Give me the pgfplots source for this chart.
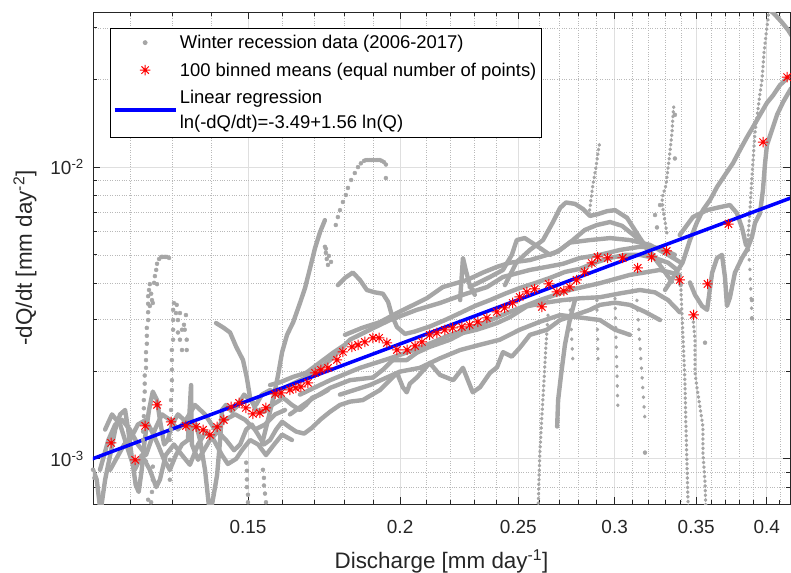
\documentclass[border=0pt]{standalone}
\usepackage{fontspec}
\setmainfont{Liberation Sans}
\usepackage{pgfplots}
\pgfplotsset{compat=1.18}

\definecolor{gdat}{RGB}{166,166,166}
\definecolor{axcol}{RGB}{38,38,38}
\definecolor{gridmaj}{RGB}{223,223,223}
\definecolor{gridmin}{RGB}{185,185,185}

% MATLAB-like '*' marker: plus and cross on top of each other
\pgfdeclareplotmark{mstar}{%
  \pgfpathmoveto{\pgfpoint{-\pgfplotmarksize}{0pt}}%
  \pgfpathlineto{\pgfpoint{\pgfplotmarksize}{0pt}}%
  \pgfpathmoveto{\pgfpoint{0pt}{-\pgfplotmarksize}}%
  \pgfpathlineto{\pgfpoint{0pt}{\pgfplotmarksize}}%
  \pgfpathmoveto{\pgfpoint{-0.7071\pgfplotmarksize}{-0.7071\pgfplotmarksize}}%
  \pgfpathlineto{\pgfpoint{0.7071\pgfplotmarksize}{0.7071\pgfplotmarksize}}%
  \pgfpathmoveto{\pgfpoint{-0.7071\pgfplotmarksize}{0.7071\pgfplotmarksize}}%
  \pgfpathlineto{\pgfpoint{0.7071\pgfplotmarksize}{-0.7071\pgfplotmarksize}}%
  \pgfusepathqstroke}

\pgfplotsset{
  legimg/.style={legend image code/.code={\draw[mark repeat=2,mark phase=2,##1] plot coordinates {(0bp,0bp) (30.5bp,0bp) (61bp,0bp)};}},
  gline/.style={draw=gdat, line width=4.4bp, line join=round, line cap=round, no markers, forget plot},
  gdots/.style={draw=gdat, line width=3.3bp, line cap=round, dash pattern=on 0.7bp off 4bp, no markers, forget plot},
  gsparse/.style={draw=gdat, line width=3.3bp, line cap=round, dash pattern=on 0.7bp off 9bp, no markers, forget plot},
}

\begin{document}
\begin{tikzpicture}
\begin{axis}[
  at={(0,0)}, anchor=south west,
  scale only axis, width=697bp, height=492bp,
  xmode=log, ymode=log,
  xmin=0.1119, xmax=0.4179, ymin=0.0007, ymax=0.034,
  xtick={0.15,0.2,0.25,0.3,0.35,0.4},
  xticklabels={0.15,0.2,0.25,0.3,0.35,0.4},
  minor xtick={0.12,0.13,0.14,0.16,0.17,0.18,0.19,0.21,0.22,0.23,0.24,0.26,0.27,0.28,0.29,0.31,0.32,0.33,0.34,0.36,0.37,0.38,0.39,0.41},
  ytick={0.001,0.01},
  yticklabels={10\textsuperscript{-3},10\textsuperscript{-2}},
  minor ytick={0.0008,0.0009,0.002,0.003,0.004,0.005,0.006,0.007,0.008,0.009,0.02,0.03},
  grid=both,
  major grid style={draw=gridmaj, line width=0.7bp},
  minor grid style={draw=gridmin, dotted, line width=0.6bp},
  axis line style={draw=axcol, line width=0.8bp},
  tick style={draw=axcol, line width=0.8bp},
  major tick length=7bp, minor tick length=4bp,
  tick label style={font=\fontsize{19}{22}\selectfont, text=axcol},
  xticklabel style={inner sep=0pt, anchor=north, yshift=-16bp},
  yticklabel style={inner sep=0pt, anchor=east, xshift=-9bp},
  xlabel={Discharge [mm day\textsuperscript{-1}]},
  ylabel={-dQ/dt [mm day\textsuperscript{-2}]},
  label style={font=\fontsize{22.5}{26}\selectfont, text=axcol},
  xlabel style={at={(axis description cs:0.5,0)}, anchor=base, inner sep=0pt, yshift=-64bp},
  ylabel style={at={(axis description cs:0,0.5)}, anchor=base, inner sep=0pt, yshift=61bp},
  legend cell align=left,
  legend style={at={(axis description cs:0.02439,0.96748)}, anchor=north west,
    draw=black, line width=0.8bp, fill=white,
    inner xsep=2.5bp, inner ysep=0.5bp, row sep=0bp,
    font=\fontsize{18.5}{25.5}\selectfont, text=black,
    cells={align=left},
    nodes={inner xsep=2.5bp, inner ysep=6.3bp}},
]

% ---- scattered recession points (dots) ----
\addplot[only marks, mark=*, mark size=2bp, color=gdat, legimg] coordinates {
 (0.1230,0.00116) (0.1230,0.00124) (0.1230,0.00132) (0.1232,0.00140) (0.1232,0.00149)
 (0.1232,0.00159) (0.1234,0.00170) (0.1234,0.00181) (0.1234,0.00193) (0.1237,0.00205)
 (0.1237,0.00218) (0.1237,0.00232) (0.1239,0.00248) (0.1239,0.00264) (0.1239,0.00281)
 (0.1242,0.00299) (0.1242,0.00318) (0.1242,0.00340) (0.1242,0.00361) (0.1244,0.00379)
 (0.1249,0.00368) (0.1251,0.00350) (0.1246,0.00334) (0.1253,0.00342) (0.1256,0.00401)
 (0.1258,0.00423) (0.1261,0.00444) (0.1263,0.00466) (0.1268,0.00484) (0.1273,0.00492)
 (0.1276,0.00492) (0.1280,0.00492) (0.1284,0.00492) (0.1287,0.00492) (0.1292,0.00488)
 (0.1263,0.00397) (0.1246,0.00397)
 (0.1294,0.000848) (0.1294,0.000917) (0.1294,0.000992) (0.1294,0.00107) (0.1294,0.00116)
 (0.1297,0.00126) (0.1297,0.00136) (0.1297,0.00147) (0.1297,0.00159) (0.1299,0.00172)
 (0.1299,0.00186) (0.1299,0.00202) (0.1299,0.00218) (0.1299,0.00236) (0.1302,0.00256)
 (0.1302,0.00277) (0.1302,0.00299) (0.1302,0.00324) (0.1304,0.00342) (0.1311,0.00337)
 (0.1309,0.00316) (0.1319,0.00316) (0.1314,0.00299) (0.1324,0.00277) (0.1331,0.00277)
 (0.1319,0.00256) (0.1336,0.00256) (0.1324,0.00236) (0.1336,0.00236) (0.1329,0.00288)
 (0.1334,0.00311) (0.1314,0.00271)
 (0.1495,0.00097) (0.1497,0.00091) (0.1497,0.00085) (0.1497,0.00080) (0.1500,0.000753)
 (0.1500,0.00071) (0.1543,0.000917) (0.1546,0.00086) (0.1546,0.00081) (0.1549,0.00076)
 (0.1552,0.00071) (0.1119,0.000917) (0.1122,0.00086) (0.1242,0.000724) (0.1249,0.00071)
 (0.1251,0.00077) (0.1253,0.000848) (0.1253,0.00094) (0.1234,0.00106) (0.1237,0.00098)
 (0.1735,0.00533) (0.1738,0.00508) (0.1741,0.00484) (0.1745,0.00462) (0.1755,0.00473)
 (0.1748,0.00496) (0.1738,0.00525)
 (0.1771,0.00633) (0.1778,0.00674) (0.1785,0.00712) (0.1795,0.00759) (0.1805,0.00802)
 (0.1812,0.00848) (0.1823,0.00903) (0.1836,0.00954) (0.1847,0.0100) (0.1857,0.0103)
 (0.1868,0.0105) (0.1875,0.01057) (0.1882,0.01057) (0.1889,0.01057) (0.1896,0.01057)
 (0.1903,0.01057) (0.1911,0.01057) (0.1918,0.01057) (0.1925,0.01057) (0.1932,0.01050)
 (0.1940,0.0104) (0.1947,0.0102) (0.1947,0.00917)
 (0.3362,0.0151) (0.3362,0.0107) (0.3269,0.00741) (0.3238,0.00685) (0.3250,0.00621)
 (0.3177,0.00105) (0.3559,0.00250) (0.3890,0.00350) (0.3890,0.00303)
};
\addlegendentry{Winter recession data (2006-2017)}

% ---- dense recession curves (drawn as thick lines) ----
\addplot[gline] coordinates {(0.1119,0.000917) (0.1127,0.000848) (0.1136,0.00064)};
\addplot[gline] coordinates {
 (0.1134,0.00064) (0.1145,0.000848) (0.1156,0.00103) (0.1167,0.00126) (0.1178,0.00142)
 (0.1189,0.00147) (0.1196,0.00126) (0.1205,0.000992) (0.1213,0.000815) (0.1220,0.00077)
 (0.1227,0.000917) (0.1234,0.00116) (0.1244,0.00147) (0.1253,0.00170) (0.1263,0.00159)
 (0.1270,0.00136) (0.1280,0.00112) (0.1289,0.00116) (0.1299,0.00131) (0.1314,0.00142)
 (0.1329,0.00136) (0.1344,0.00126) (0.1360,0.00131) (0.1370,0.00116) (0.1383,0.000917)
 (0.1396,0.00064) (0.1406,0.000753) (0.1415,0.000882) (0.1423,0.00116) (0.1428,0.00147)
 (0.1439,0.00153) (0.1455,0.00145) (0.1472,0.00153) (0.1489,0.00166) (0.1506,0.00159)
 (0.1523,0.00153) (0.1540,0.00166) (0.1564,0.00172) (0.1588,0.00166) (0.1612,0.00159)
 (0.1630,0.00153) (0.1655,0.00147) (0.1674,0.00153) (0.1694,0.00162) (0.1719,0.00166)
 (0.1745,0.00172)};
\addplot[gline] coordinates {
 (0.1156,0.000917) (0.1174,0.00103) (0.1187,0.00112) (0.1200,0.00116) (0.1218,0.00131)
 (0.1237,0.00136) (0.1251,0.00124) (0.1265,0.00112) (0.1280,0.000992) (0.1294,0.000917)
 (0.1309,0.00103) (0.1324,0.00112) (0.1339,0.00116) (0.1347,0.00179) (0.1349,0.00112)
 (0.1365,0.000992) (0.1380,0.00107) (0.1396,0.00116) (0.1417,0.00124) (0.1439,0.00116)
 (0.1461,0.00107) (0.1478,0.00112) (0.1495,0.00126) (0.1511,0.00131) (0.1529,0.00121)
 (0.1546,0.00112) (0.1564,0.00116) (0.1582,0.00126) (0.1600,0.00134) (0.1624,0.00128)
 (0.1643,0.00124) (0.1668,0.00122) (0.1694,0.00128) (0.1719,0.00136) (0.1752,0.00145)
 (0.1785,0.00153) (0.1819,0.00157) (0.1864,0.00159) (0.1925,0.00172) (0.1988,0.00197)
 (0.2010,0.00176) (0.2025,0.00169) (0.2037,0.00181) (0.2064,0.00190) (0.2115,0.00213)
 (0.2156,0.00194) (0.2211,0.00186) (0.2252,0.00205) (0.2294,0.00169) (0.2326,0.00176)
 (0.2370,0.00197) (0.2402,0.00206) (0.2429,0.00232) (0.2470,0.00224) (0.2507,0.00240)
 (0.2556,0.00266) (0.2640,0.00277) (0.2706,0.00299) (0.2783,0.00311) (0.2863,0.00324)
 (0.2918,0.00337) (0.3002,0.00343) (0.3088,0.00337) (0.3177,0.00319) (0.3269,0.00299)};
\addplot[gline] coordinates {
 (0.1134,0.000917) (0.1152,0.00116) (0.1167,0.00131) (0.1182,0.00136) (0.1200,0.00126)
 (0.1218,0.00112) (0.1237,0.00103) (0.1258,0.00126) (0.1275,0.00142) (0.1294,0.00136)
 (0.1314,0.00126) (0.1334,0.00136) (0.1357,0.00153) (0.1383,0.00142) (0.1409,0.00126)
 (0.1436,0.00136) (0.1464,0.00142) (0.1492,0.00136) (0.1520,0.00126) (0.1549,0.00131)
 (0.1579,0.00142) (0.1609,0.00147)};
\addplot[gline] coordinates {
 (0.1145,0.00126) (0.1160,0.00142) (0.1178,0.00131) (0.1196,0.00107) (0.1211,0.000917)
 (0.1227,0.00103) (0.1246,0.000917) (0.1261,0.000800) (0.1270,0.000848) (0.1284,0.00103)
 (0.1304,0.00112) (0.1324,0.00103) (0.1344,0.000954) (0.1365,0.00112) (0.1385,0.00124)
 (0.1406,0.00116) (0.1428,0.00103) (0.1444,0.000960) (0.1467,0.00100) (0.1483,0.00107)
 (0.1506,0.00116) (0.1529,0.00112) (0.1552,0.00103) (0.1576,0.00112) (0.1600,0.00121)
 (0.1630,0.00116)};
\addplot[gline] coordinates {
 (0.1412,0.00292) (0.1433,0.00281) (0.1450,0.00271) (0.1467,0.00242) (0.1486,0.00218)
 (0.1497,0.00189) (0.1506,0.00162) (0.1523,0.00147) (0.1546,0.00145) (0.1570,0.00153)
 (0.1594,0.00159)};
\addplot[gline] coordinates {
 (0.1540,0.00112) (0.1558,0.00136) (0.1576,0.00166) (0.1588,0.00194) (0.1600,0.00232)
 (0.1615,0.00266) (0.1634,0.00294) (0.1655,0.00342) (0.1671,0.00385) (0.1687,0.00451)
 (0.1703,0.00529) (0.1719,0.00599) (0.1735,0.00658)};
\addplot[gline] coordinates {
 (0.1564,0.00179) (0.1594,0.00183) (0.1634,0.00191) (0.1674,0.00197) (0.1719,0.00214)
 (0.1762,0.00231) (0.1802,0.00246)};
\addplot[gline] coordinates {
 (0.1778,0.00394) (0.1802,0.00417) (0.1829,0.00435) (0.1854,0.00410) (0.1878,0.00379)
 (0.1907,0.00372) (0.1936,0.00368) (0.1955,0.00345) (0.1969,0.00311) (0.1988,0.00283)
 (0.2018,0.00268) (0.2056,0.00273) (0.2115,0.00284) (0.2177,0.00299) (0.2240,0.00316)
 (0.2303,0.00334) (0.2370,0.00350) (0.2438,0.00368) (0.2507,0.00385) (0.2580,0.00400)
 (0.2655,0.00417) (0.2731,0.00437) (0.2810,0.00448) (0.2890,0.00470) (0.2974,0.00488)
 (0.3059,0.00500) (0.3147,0.00500) (0.3238,0.00488) (0.3319,0.00470) (0.3368,0.00448)
 (0.3399,0.00394)};
\addplot[gline] coordinates {
 (0.1802,0.00266) (0.1861,0.00281) (0.1925,0.00294) (0.1988,0.00316) (0.2103,0.00355)
 (0.2168,0.00388) (0.2269,0.00410) (0.2339,0.00435) (0.2402,0.00455) (0.2461,0.00470)
 (0.2556,0.00480) (0.2691,0.00512) (0.2756,0.00551) (0.2863,0.00562) (0.2974,0.00571)
 (0.3088,0.00562) (0.3207,0.00541) (0.3319,0.00500) (0.3393,0.00473)};
\addplot[gline] coordinates {
 (0.1594,0.00172) (0.1655,0.00186) (0.1703,0.00198) (0.1752,0.00218) (0.1819,0.00256)
 (0.1889,0.00277) (0.1962,0.00299) (0.2064,0.00324) (0.2156,0.00342) (0.2252,0.00365)
 (0.2357,0.00388) (0.2429,0.00420) (0.2556,0.00444) (0.2640,0.00455) (0.2721,0.00466)
 (0.2810,0.00488) (0.2918,0.00500) (0.3031,0.00520) (0.3147,0.00533) (0.3269,0.00528)
 (0.3362,0.00500)};
\addplot[gline] coordinates {
 (0.1655,0.00166) (0.1752,0.00186) (0.1854,0.00205) (0.1962,0.00221) (0.2076,0.00240)
 (0.2198,0.00266) (0.2326,0.00288) (0.2461,0.00319) (0.2605,0.00350) (0.2756,0.00379)
 (0.2918,0.00400) (0.3088,0.00427) (0.3269,0.00444) (0.3393,0.00427)};
\addplot[gline] coordinates {
 (0.1785,0.00166) (0.1889,0.00179) (0.1999,0.00199) (0.2076,0.00205) (0.2156,0.00221)
 (0.2240,0.00236) (0.2326,0.00246) (0.2415,0.00256) (0.2507,0.00277) (0.2605,0.00295)
 (0.2706,0.00311) (0.2810,0.00305) (0.2918,0.00299) (0.3002,0.00277) (0.3088,0.00266)};
\addplot[gline] coordinates {
 (0.1624,0.00142) (0.1687,0.00159) (0.1752,0.00175) (0.1819,0.00186) (0.1900,0.00190)
 (0.1936,0.00202) (0.1973,0.00218) (0.2025,0.00218) (0.2064,0.00231) (0.2115,0.00242)
 (0.2198,0.00256) (0.2252,0.00270) (0.2312,0.00277) (0.2402,0.00292) (0.2461,0.00306)
 (0.2541,0.00333) (0.2620,0.00342) (0.2721,0.00350) (0.2810,0.00355) (0.2918,0.00358)
 (0.3031,0.00369) (0.3147,0.00379) (0.3238,0.00372) (0.3319,0.00350) (0.3393,0.00318)};
\addplot[gline] coordinates {
 (0.2240,0.00350) (0.2252,0.00488) (0.2264,0.00444) (0.2281,0.00394) (0.2303,0.00365)};
\addplot[gline] coordinates {
 (0.2438,0.00394) (0.2493,0.00473) (0.2556,0.00520) (0.2620,0.00562) (0.2670,0.00648)
 (0.2706,0.00724) (0.2736,0.00756) (0.2783,0.00748) (0.2826,0.00718) (0.2863,0.00680)
 (0.2907,0.00690) (0.2957,0.00706) (0.3002,0.00712) (0.3071,0.00670) (0.3147,0.00571)
 (0.3219,0.00500) (0.3281,0.00451) (0.3343,0.00404)};
\addplot[gline] coordinates {
 (0.2281,0.00388) (0.2370,0.00420) (0.2429,0.00444) (0.2470,0.00500) (0.2493,0.00562)
 (0.2531,0.00571) (0.2605,0.00528) (0.2655,0.00500) (0.2706,0.00520) (0.2772,0.00562)
 (0.2836,0.00609) (0.2901,0.00633) (0.2974,0.00648) (0.3042,0.00629) (0.3117,0.00580)
 (0.3195,0.00520) (0.3269,0.00473)};
\addplot[gline] coordinates {
 (0.2783,0.00350) (0.2756,0.00299) (0.2731,0.00246) (0.2711,0.00194) (0.2696,0.00159)
 (0.2691,0.00129)};
\addplot[gline] coordinates {
 (0.3300,0.00379) (0.3362,0.00427) (0.3412,0.00471) (0.3459,0.00562) (0.3505,0.00646)
 (0.3545,0.00712) (0.3593,0.00771) (0.3641,0.00855) (0.3696,0.00939) (0.3752,0.0103)
 (0.3802,0.01144) (0.3853,0.01265) (0.3897,0.01370) (0.3949,0.0151) (0.4001,0.0166)
 (0.4047,0.0176) (0.4101,0.0191) (0.4148,0.0200) (0.4195,0.0207)};
\addplot[gline] coordinates {
 (0.3459,0.00402) (0.3492,0.00365) (0.3539,0.00334) (0.3573,0.00324) (0.3607,0.00434)
 (0.3641,0.00488) (0.3675,0.00500) (0.3696,0.00420) (0.3710,0.00334) (0.3731,0.00357)
 (0.3766,0.00434) (0.3817,0.00488) (0.3853,0.00520) (0.3890,0.00576) (0.3912,0.00643)
 (0.3949,0.00695) (0.3971,0.00834) (0.3986,0.0102) (0.4001,0.0119) (0.4039,0.01339)
 (0.4078,0.0151) (0.4125,0.0167) (0.4187,0.0186)};
\addplot[gline] coordinates {
 (0.3393,0.00585) (0.3479,0.00674) (0.3573,0.00712) (0.3661,0.00729) (0.3731,0.00741)
 (0.3780,0.00695) (0.3817,0.00619) (0.3846,0.00541)};
\addplot[gline] coordinates {
 (0.4009,0.0350) (0.4062,0.0333) (0.4117,0.0313) (0.4164,0.0295) (0.4195,0.0281)};

% ---- sparse / dotted parts of recessions ----
\addplot[gdots] coordinates {
 (0.3399,0.00394) (0.3412,0.00277) (0.3426,0.00186) (0.3432,0.00136) (0.3439,0.000992)
 (0.3446,0.000724) (0.3452,0.00064)};
\addplot[gdots] coordinates {
 (0.3479,0.00306) (0.3492,0.00256) (0.3492,0.00198) (0.3505,0.00176) (0.3525,0.00151)
 (0.3545,0.00129) (0.3545,0.00105) (0.3559,0.00083) (0.3566,0.00064)};
\addplot[gdots] coordinates {
 (0.2645,0.00311) (0.2635,0.00246) (0.2625,0.00186) (0.2615,0.00142) (0.2605,0.00107)
 (0.2600,0.000848) (0.2595,0.00064)};
\addplot[gdots] coordinates {
 (0.2858,0.00685) (0.2879,0.00868) (0.2896,0.0100) (0.2912,0.0117) (0.2918,0.0122)};
\addplot[gdots] coordinates {
 (0.3312,0.00594) (0.3288,0.00712) (0.3281,0.00783) (0.3306,0.00868) (0.3325,0.01057)
 (0.3344,0.0132) (0.3350,0.0151) (0.3356,0.0163)};
\addplot[gdots] coordinates {
 (0.3860,0.00562) (0.3875,0.00712) (0.3890,0.00924) (0.3912,0.01310) (0.3934,0.01568)
 (0.3949,0.0179) (0.3964,0.01986) (0.3979,0.0246) (0.3994,0.0283) (0.4009,0.0322)
 (0.4016,0.0355)};
\addplot[gsparse] coordinates {(0.2901,0.00350) (0.2907,0.00218)};
\addplot[gsparse] coordinates {(0.3002,0.00355) (0.3019,0.00147)};
\addplot[gsparse] coordinates {(0.3129,0.00350) (0.3177,0.00136)};
\addplot[gsparse] coordinates {(0.2756,0.00350) (0.2772,0.00218)};
\addplot[gsparse] coordinates {(0.3860,0.00562) (0.3875,0.00444) (0.3890,0.00303)};

% ---- binned means ----
\addplot[only marks, mark=mstar, mark size=5.2bp, color=red, line width=1bp, legimg] coordinates {
 (0.1158,1.134e-3) (0.1212,9.92e-4) (0.1235,1.297e-3) (0.1263,1.531e-3) (0.1297,1.339e-3)
 (0.1334,1.297e-3) (0.1360,1.287e-3) (0.1378,1.257e-3) (0.1396,1.208e-3) (0.1415,1.287e-3)
 (0.1433,1.360e-3) (0.1453,1.507e-3) (0.1475,1.555e-3) (0.1494,1.495e-3) (0.1514,1.426e-3)
 (0.1534,1.437e-3) (0.1552,1.495e-3) (0.1579,1.669e-3) (0.1597,1.683e-3) (0.1624,1.723e-3)
 (0.1642,1.750e-3) (0.1658,1.764e-3) (0.1680,1.821e-3) (0.1703,1.970e-3) (0.1722,2.017e-3)
 (0.1745,2.049e-3) (0.1775,2.183e-3) (0.1795,2.325e-3) (0.1826,2.418e-3) (0.1847,2.457e-3)
 (0.1871,2.516e-3) (0.1900,2.597e-3) (0.1922,2.597e-3) (0.1951,2.496e-3) (0.1988,2.362e-3)
 (0.2026,2.362e-3) (0.2057,2.438e-3) (0.2084,2.516e-3) (0.2115,2.659e-3) (0.2144,2.701e-3)
 (0.2176,2.766e-3) (0.2209,2.809e-3) (0.2247,2.832e-3) (0.2281,2.877e-3) (0.2316,2.946e-3)
 (0.2356,3.040e-3) (0.2401,3.187e-3) (0.2437,3.289e-3) (0.2474,3.422e-3) (0.2507,3.588e-3)
 (0.2541,3.732e-3) (0.2579,3.821e-3) (0.2614,3.316e-3) (0.2649,3.975e-3) (0.2689,3.732e-3)
 (0.2725,3.762e-3) (0.2756,3.882e-3) (0.2792,4.102e-3) (0.2835,4.369e-3) (0.2873,4.691e-3)
 (0.2905,4.918e-3) (0.2961,4.879e-3) (0.3046,4.879e-3) (0.3134,4.510e-3) (0.3217,4.918e-3)
 (0.3310,5.156e-3) (0.3393,4.102e-3) (0.3483,3.113e-3) (0.3576,3.975e-3) (0.3720,6.380e-3)
 (0.3972,1.218e-2) (0.4157,2.033e-2)
};
\addlegendentry{100 binned means (equal number of points)}

% ---- regression ln(-dQ/dt) = -3.49 + 1.56 ln(Q) ----
\addplot[draw={rgb,255:red,0;green,0;blue,255}, line width=3.5bp, no markers, legimg] coordinates {
 (0.11,0.000975) (0.42,0.007878)};
\addlegendentry{Linear regression\\ln(-dQ/dt)=-3.49+1.56 ln(Q)}

\end{axis}
\pgfresetboundingbox
\path[use as bounding box] (-93bp,-69bp) rectangle (698bp,504bp);
\end{tikzpicture}
\end{document}
